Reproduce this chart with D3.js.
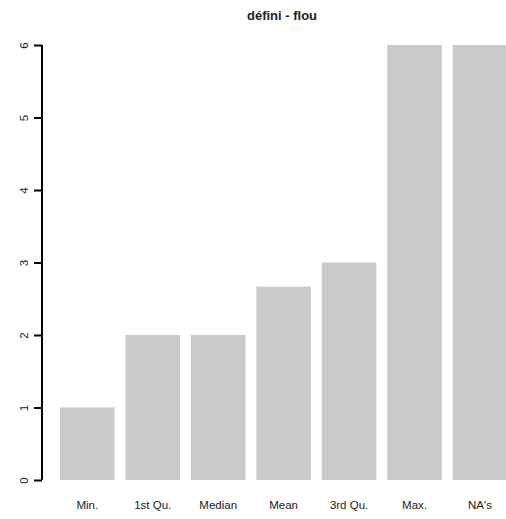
<!DOCTYPE html>
<html>
<head>
<meta charset="utf-8">
<script src="https://cdn.jsdelivr.net/npm/d3@7"></script>
<style>
html,body{margin:0;padding:0;background:#fff;}
svg{display:block;}
text{font-family:"Liberation Sans",Arial,Helvetica,sans-serif;fill:#222;}
</style>
</head>
<body>
<script>
const title = "défini - flou";
const categories = ["Min.", "1st Qu.", "Median", "Mean", "3rd Qu.", "Max.", "NA's"];
const values = [1, 2, 2, 2.667, 3, 6, 6];
const yTicks = [0, 1, 2, 3, 4, 5, 6];

const W = 506, H = 519;
const svg = d3.select("body").append("svg").attr("width", W).attr("height", H);

const y = d3.scaleLinear().domain([0, 6]).range([480, 45]);
const x = d3.scaleBand().domain(categories)
  .range([60, 60 + 65.45 * (7 - 1/6)])
  .paddingInner(1/6).paddingOuter(0);

svg.append("g").selectAll("rect").data(values).join("rect")
  .attr("x", (d, i) => x(categories[i]))
  .attr("width", x.bandwidth())
  .attr("y", d => y(d))
  .attr("height", d => y(0) - y(d))
  .attr("fill", "#cacaca");

// y axis
const yAxis = d3.axisLeft(y).tickValues(yTicks).tickSize(8).tickFormat(d3.format("d"));
const gy = svg.append("g").attr("transform", "translate(42,0)").call(yAxis);
gy.select(".domain").attr("d", `M0,${y(6)}V${y(0)}`).attr("stroke", "#000").attr("stroke-width", 2).attr("fill", "none");
gy.selectAll(".tick line").attr("stroke", "#000").attr("stroke-width", 2);
gy.selectAll(".tick text")
  .attr("x", 0).attr("dy", null).attr("y", 0)
  .attr("text-anchor", "middle")
  .attr("transform", "translate(-18,0) rotate(-90)")
  .attr("dominant-baseline", "central")
  .style("font-size", "11.5px")
  .style("font-family", "'Liberation Sans',Arial,sans-serif")
  .attr("fill", "#222");

// x labels
const xAxis = d3.axisBottom(x).tickSize(0);
const gx = svg.append("g").attr("transform", "translate(0,480)").call(xAxis);
gx.select(".domain").remove();
gx.selectAll(".tick text")
  .attr("y", 29).attr("dy", null)
  .style("font-size", "11.5px")
  .style("font-family", "'Liberation Sans',Arial,sans-serif")
  .attr("fill", "#222");

svg.append("text")
  .attr("x", 282).attr("y", 20)
  .attr("text-anchor", "middle")
  .style("font-weight", "bold")
  .style("font-size", "13px")
  .text(title);
</script>
</body>
</html>
